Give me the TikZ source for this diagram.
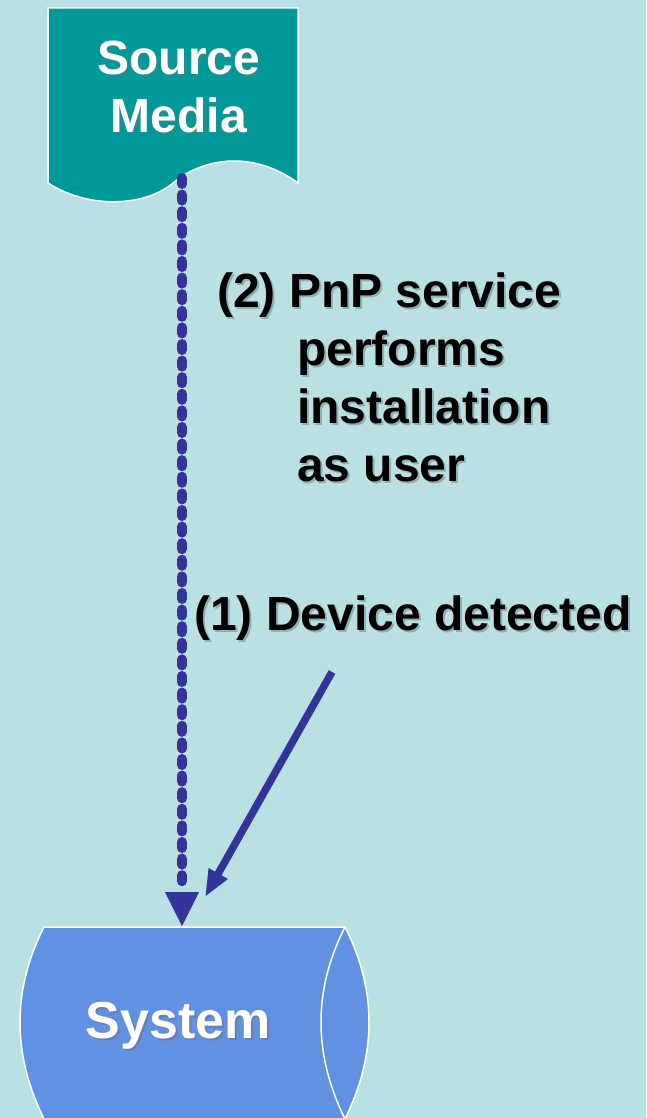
\documentclass[tikz,border=0pt]{standalone}
\usepackage{fontspec}
\setmainfont{Liberation Sans}
\usetikzlibrary{arrows.meta}
\definecolor{bg}{RGB}{185,224,226}
\definecolor{teal1}{RGB}{0,153,153}
\definecolor{sysblue}{RGB}{97,145,226}
\definecolor{arrowblue}{RGB}{51,51,153}
\definecolor{shadowgray}{RGB}{110,110,110}
\tikzset{
  bigtext/.style={font=\bfseries\fontsize{48}{58}\selectfont, inner sep=0pt},
  whitetext/.style={bigtext, text=white},
  blacktext/.style={bigtext, text=black},
  shadowtext/.style={bigtext, text=shadowgray, opacity=0.45},
  shapeborder/.style={draw=white, line width=1.5pt},
  dotline/.style={draw=arrowblue, line width=10pt, line cap=round, dash pattern=on 6pt off 10.6pt},
  solidarrow/.style={draw=arrowblue, line width=7.5pt, -{Triangle[length=27pt,width=20pt]}}
}
\begin{document}
\begin{tikzpicture}[x=1pt,y=-1pt]
\fill[bg] (0,0) rectangle (646,1118);
\useasboundingbox (0,0) rectangle (646,1118);

% Source Media document shape
\path[fill=teal1, shapeborder] (48,8) -- (298,8) -- (298,183)
  .. controls (250,148) and (200,160) .. (173,183)
  .. controls (146,206) and (90,210) .. (48,183) -- cycle;
\node[shadowtext, align=center] (srcshadow) at (181,89) {Source\\Media};
\node[whitetext, align=center] (src) at (179,87) {Source\\Media};
\coordinate (srcbot) at (182,178);

% System cylinder
\path[fill=sysblue, shapeborder] (44,927) -- (345,927)
  .. controls (377,990) and (377,1054) .. (345,1119) -- (44,1119)
  .. controls (12,1054) and (12,990) .. (44,927) -- cycle;
\draw[shapeborder] (345,927) .. controls (313,990) and (313,1054) .. (345,1119);
\node[shadowtext] (sysshadow) at (180,1028) {\fontsize{52}{60}\selectfont System};
\node[whitetext] (sys) at (178,1026) {\fontsize{52}{60}\selectfont System};
\coordinate (systop) at (182,926);
\coordinate (sysin) at (205,897);

% Labels
\node[shadowtext, align=left, anchor=base west] (lab2shadow) at (219,483)
  {(2) PnP service\\\hspace*{80pt}performs\\\hspace*{80pt}installation\\\hspace*{80pt}as user};
\node[blacktext, align=left, anchor=base west] (lab2) at (217,481)
  {(2) PnP service\\\hspace*{80pt}performs\\\hspace*{80pt}installation\\\hspace*{80pt}as user};
\node[shadowtext, anchor=base west] (lab1shadow) at (196,632) {(1) Device detected};
\node[blacktext, anchor=base west] (lab1) at (194,630) {(1) Device detected};
\coordinate (lab1end) at (332,672);

% Connectors
\draw[dotline] (srcbot) -- ([yshift=38pt]systop);
\fill[arrowblue] ([xshift=-17pt,yshift=34pt]systop) -- ([xshift=17pt,yshift=34pt]systop) -- (systop) -- cycle;
\draw[solidarrow] (lab1end) -- (sysin);
\end{tikzpicture}
\end{document}
